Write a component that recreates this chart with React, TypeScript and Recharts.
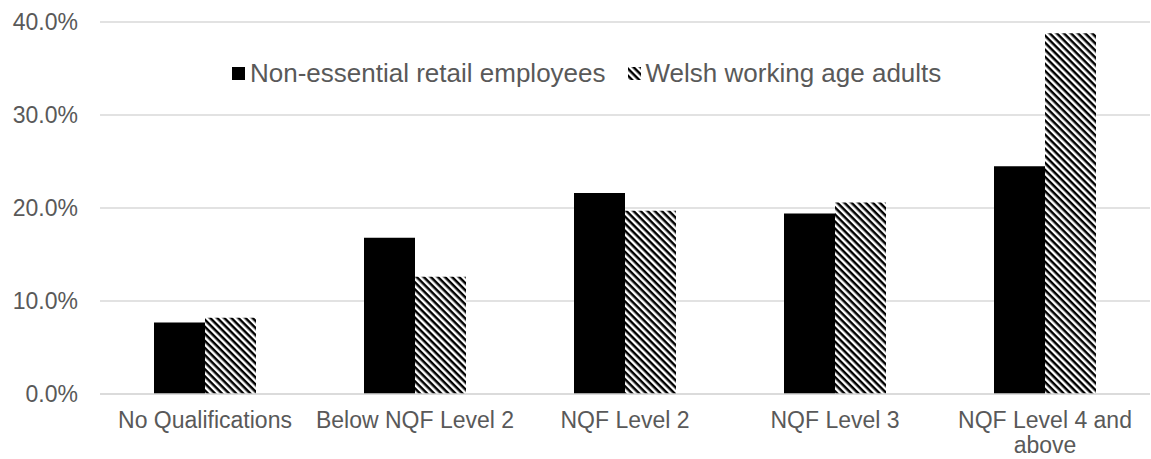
import React from 'react';
import { BarChart, Bar, XAxis, YAxis, CartesianGrid } from 'recharts';

const categories = ['No Qualifications', 'Below NQF Level 2', 'NQF Level 2', 'NQF Level 3', 'NQF Level 4 and above'];
const retailEmployees = [7.7, 16.8, 21.6, 19.4, 24.5];
const welshAdults = [8.2, 12.6, 19.7, 20.6, 38.8];
const yTicks = [0, 10, 20, 30, 40];

const data = categories.map((name, i) => ({
    name,
    retail: retailEmployees[i],
    welsh: welshAdults[i],
}));

const FONT = '"Liberation Sans", Arial, sans-serif';

const HatchDefs = () => (
    <defs>
        <pattern id="hatch" patternUnits="userSpaceOnUse" width="5" height="5" patternTransform="rotate(45)">
            <rect x="0" y="0" width="5" height="5" fill="#ffffff" />
            <rect x="0" y="0" width="5" height="2.5" fill="#000000" />
        </pattern>
    </defs>
);

// greedy word wrap, roughly what Excel does for these labels
const wrapLabel = (label: string, maxChars: number) => {
    const lines: string[] = [];
    let cur = '';
    label.split(' ').forEach((w) => {
        const next = cur ? cur + ' ' + w : w;
        if (next.length > maxChars && cur) {
            lines.push(cur);
            cur = w;
        } else {
            cur = next;
        }
    });
    if (cur) lines.push(cur);
    return lines;
};

const CategoryTick = (props: any) => {
    const { x, y, payload } = props;
    const lines = wrapLabel(payload.value, 17);
    return (
        <text x={x} y={y} textAnchor="middle" fill="#595959" fontSize={23} fontFamily={FONT}>
            {lines.map((l, i) => (
                <tspan key={i} x={x} dy={i === 0 ? '0.71em' : 25}>
                    {l}
                </tspan>
            ))}
        </text>
    );
};

const ChartLegend = () => (
    <div
        style={{
            position: 'absolute',
            top: 58,
            left: 232,
            display: 'flex',
            alignItems: 'center',
            fontFamily: FONT,
            fontSize: 26,
            color: '#595959',
            whiteSpace: 'nowrap',
        }}
    >
        <span style={{ display: 'inline-block', width: 13, height: 13, background: '#000', marginRight: 5 }}></span>
        <span>Non-essential retail employees</span>
        <svg width={13} height={13} style={{ marginLeft: 22, marginRight: 5 }}>
            <defs>
                <pattern id="hatchLegend" patternUnits="userSpaceOnUse" width="5" height="5" patternTransform="rotate(45)">
                    <rect x="0" y="0" width="5" height="5" fill="#ffffff" />
                    <rect x="0" y="0" width="5" height="2.5" fill="#000000" />
                </pattern>
            </defs>
            <rect width={13} height={13} fill="url(#hatchLegend)" />
        </svg>
        <span>Welsh working age adults</span>
    </div>
);

export default function App() {
    return (
        <div style={{ position: 'absolute', left: 0, top: 0, width: 1151, height: 459, background: '#fff' }}>
            <BarChart
                width={1151}
                height={459}
                data={data}
                margin={{ top: 22, right: 1, left: 0, bottom: 0 }}
                barCategoryGap={54}
                barGap={0}
            >
                <HatchDefs />
                <CartesianGrid vertical={false} stroke="#d9d9d9" strokeWidth={1.5} />
                <XAxis
                    dataKey="name"
                    height={65}
                    axisLine={{ stroke: '#d9d9d9', strokeWidth: 1.5 }}
                    tickLine={false}
                    tickMargin={12}
                    interval={0}
                    tick={<CategoryTick />}
                />
                <YAxis
                    width={100}
                    domain={[0, 40]}
                    ticks={yTicks}
                    axisLine={false}
                    tickLine={false}
                    tickMargin={16}
                    tickFormatter={(v: number) => v.toFixed(1) + '%'}
                    tick={{ fill: '#595959', fontSize: 23, fontFamily: FONT }}
                />
                <Bar dataKey="retail" name="Non-essential retail employees" fill="#000000" isAnimationActive={false} />
                <Bar dataKey="welsh" name="Welsh working age adults" fill="url(#hatch)" isAnimationActive={false} />
            </BarChart>
            <ChartLegend />
        </div>
    );
}
